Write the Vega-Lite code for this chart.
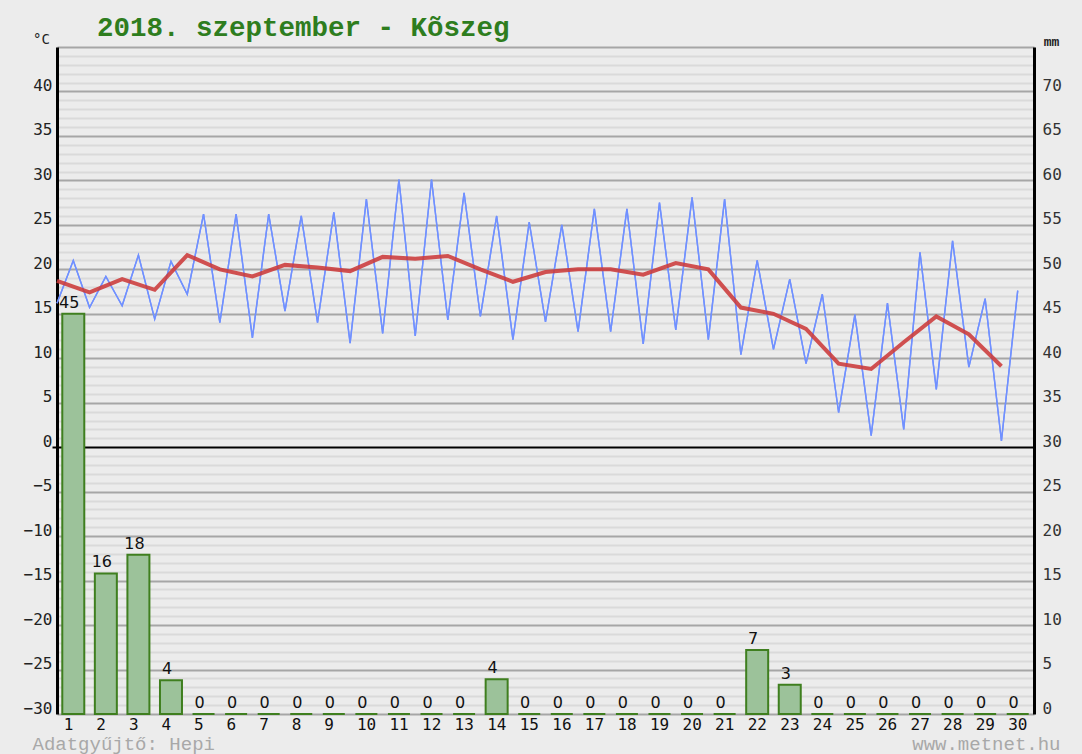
{
  "$schema": "https://vega.github.io/schema/vega-lite/v6.json",
  "width": 977,
  "height": 667,
  "autosize": "none",
  "padding": {"left": 57, "top": 47, "right": 48, "bottom": 40},
  "background": "#ececec",
  "config": {"view": {"stroke": null, "fill": "#ececec"}, "axis": {"grid": false}},
  "title": {"text": "2018. szeptember - Kõszeg", "anchor": "start", "frame": "group", "dx": 40, "dy": 41, "offset": 10, "font": "Liberation Mono", "fontSize": 27.5, "fontWeight": "bold", "color": "#2e7d1e", "baseline": "alphabetic"},
  "datasets": {
    "temps": [
      {"t": 0.5, "temp": 16.2}, {"t": 1, "temp": 21.0}, {"t": 1.5, "temp": 15.7}, {"t": 2, "temp": 19.2},
      {"t": 2.5, "temp": 15.9}, {"t": 3, "temp": 21.6}, {"t": 3.5, "temp": 14.4}, {"t": 4, "temp": 20.9},
      {"t": 4.5, "temp": 17.2}, {"t": 5, "temp": 26.2}, {"t": 5.5, "temp": 14.0}, {"t": 6, "temp": 26.2},
      {"t": 6.5, "temp": 12.3}, {"t": 7, "temp": 26.2}, {"t": 7.5, "temp": 15.3}, {"t": 8, "temp": 26.0},
      {"t": 8.5, "temp": 14.0}, {"t": 9, "temp": 26.4}, {"t": 9.5, "temp": 11.7}, {"t": 10, "temp": 27.9},
      {"t": 10.5, "temp": 12.8}, {"t": 11, "temp": 30.1}, {"t": 11.5, "temp": 12.5}, {"t": 12, "temp": 30.1},
      {"t": 12.5, "temp": 14.3}, {"t": 13, "temp": 28.6}, {"t": 13.5, "temp": 14.7}, {"t": 14, "temp": 26.0},
      {"t": 14.5, "temp": 12.1}, {"t": 15, "temp": 25.3}, {"t": 15.5, "temp": 14.1}, {"t": 16, "temp": 25.0},
      {"t": 16.5, "temp": 13.0}, {"t": 17, "temp": 26.8}, {"t": 17.5, "temp": 13.0}, {"t": 18, "temp": 26.8},
      {"t": 18.5, "temp": 11.6}, {"t": 19, "temp": 27.5}, {"t": 19.5, "temp": 13.2}, {"t": 20, "temp": 28.1},
      {"t": 20.5, "temp": 12.1}, {"t": 21, "temp": 27.9}, {"t": 21.5, "temp": 10.4}, {"t": 22, "temp": 21.0},
      {"t": 22.5, "temp": 11.0}, {"t": 23, "temp": 18.9}, {"t": 23.5, "temp": 9.4}, {"t": 24, "temp": 17.2},
      {"t": 24.5, "temp": 3.9}, {"t": 25, "temp": 14.9}, {"t": 25.5, "temp": 1.3}, {"t": 26, "temp": 16.2},
      {"t": 26.5, "temp": 2.0}, {"t": 27, "temp": 21.9}, {"t": 27.5, "temp": 6.5}, {"t": 28, "temp": 23.2},
      {"t": 28.5, "temp": 9.0}, {"t": 29, "temp": 16.7}, {"t": 29.5, "temp": 0.7}, {"t": 30, "temp": 17.6}
    ],
    "means": [
      {"t": 0.5, "temp": 18.7}, {"t": 1.5, "temp": 17.4}, {"t": 2.5, "temp": 18.9}, {"t": 3.5, "temp": 17.7},
      {"t": 4.5, "temp": 21.6}, {"t": 5.5, "temp": 20.0}, {"t": 6.5, "temp": 19.2}, {"t": 7.5, "temp": 20.5},
      {"t": 8.5, "temp": 20.2}, {"t": 9.5, "temp": 19.8}, {"t": 10.5, "temp": 21.4}, {"t": 11.5, "temp": 21.2},
      {"t": 12.5, "temp": 21.5}, {"t": 13.5, "temp": 20.0}, {"t": 14.5, "temp": 18.6}, {"t": 15.5, "temp": 19.7},
      {"t": 16.5, "temp": 20.0}, {"t": 17.5, "temp": 20.0}, {"t": 18.5, "temp": 19.4}, {"t": 19.5, "temp": 20.7},
      {"t": 20.5, "temp": 20.0}, {"t": 21.5, "temp": 15.7}, {"t": 22.5, "temp": 15.0}, {"t": 23.5, "temp": 13.3},
      {"t": 24.5, "temp": 9.4}, {"t": 25.5, "temp": 8.8}, {"t": 26.5, "temp": 11.8}, {"t": 27.5, "temp": 14.7},
      {"t": 28.5, "temp": 12.7}, {"t": 29.5, "temp": 9.1}
    ],
    "daily": [
      {"day": 1, "precip": 45}, {"day": 2, "precip": 15.8}, {"day": 3, "precip": 17.9}, {"day": 4, "precip": 3.8},
      {"day": 5, "precip": 0}, {"day": 6, "precip": 0}, {"day": 7, "precip": 0}, {"day": 8, "precip": 0},
      {"day": 9, "precip": 0}, {"day": 10, "precip": 0}, {"day": 11, "precip": 0}, {"day": 12, "precip": 0},
      {"day": 13, "precip": 0}, {"day": 14, "precip": 3.9}, {"day": 15, "precip": 0}, {"day": 16, "precip": 0},
      {"day": 17, "precip": 0}, {"day": 18, "precip": 0}, {"day": 19, "precip": 0}, {"day": 20, "precip": 0},
      {"day": 21, "precip": 0}, {"day": 22, "precip": 7.2}, {"day": 23, "precip": 3.3}, {"day": 24, "precip": 0},
      {"day": 25, "precip": 0}, {"day": 26, "precip": 0}, {"day": 27, "precip": 0}, {"day": 28, "precip": 0},
      {"day": 29, "precip": 0}, {"day": 30, "precip": 0}
    ]
  },
  "layer": [
    {
      "data": {"name": "temps"},
      "mark": {"type": "line", "color": "#7090ff", "strokeWidth": 1.4},
      "encoding": {
        "x": {"field": "t", "type": "quantitative", "scale": {"domain": [0.5, 30.5], "nice": false, "zero": false, "padding": 0},
          "axis": {"orient": "bottom", "labels": false, "ticks": false, "domain": false, "grid": false,
            "title": "www.metnet.hu", "titleFont": "Liberation Mono", "titleFontSize": 19, "titleFontWeight": "normal",
            "titleColor": "#a8a8a8", "titleAlign": "right", "titleAnchor": "end", "titleX": 1003, "titleY": 29, "titleBaseline": "middle"}},
        "y": {"field": "temp", "type": "quantitative", "scale": {"domain": [-30, 45], "nice": false, "zero": false},
          "axis": {"orient": "left",
            "values": [-30,-29,-28,-27,-26,-25,-24,-23,-22,-21,-20,-19,-18,-17,-16,-15,-14,-13,-12,-11,-10,-9,-8,-7,-6,-5,-4,-3,-2,-1,0,1,2,3,4,5,6,7,8,9,10,11,12,13,14,15,16,17,18,19,20,21,22,23,24,25,26,27,28,29,30,31,32,33,34,35,36,37,38,39,40,41,42,43,44,45],
            "labelExpr": "datum.value % 5 === 0 && datum.value < 45 ? datum.label : ''",
            "labelFont": "DejaVu Sans Mono", "labelFontSize": 16, "labelColor": "#222222",
            "labelOffset": -6, "labelPadding": 0, "labelBaseline": "middle", "labelOverlap": false, "labelFlush": false,
            "ticks": true, "tickSize": 5, "tickWidth": 2, "tickColor": "#000000",
            "tickOpacity": {"condition": {"test": "datum.value === 0", "value": 1}, "value": 0},
            "grid": true, "gridWidth": 2,
            "gridColor": {"condition": [{"test": "datum.value === 0", "value": "#000000"}, {"test": "datum.value % 5 === 0", "value": "#a6a6a6"}], "value": "#dadada"},
            "domain": true, "domainColor": "#000000", "domainWidth": 3,
            "title": "°C", "titleAngle": 0, "titleX": -16, "titleY": -8, "titleAlign": "center", "titleBaseline": "middle",
            "titleFont": "DejaVu Sans Mono", "titleFontSize": 14, "titleFontWeight": "normal", "titleColor": "#222222"}}
      }
    },
    {
      "data": {"name": "daily"},
      "mark": {"type": "bar", "width": 22, "fill": "#9cc29a", "stroke": "#3f7f1f", "strokeWidth": 2},
      "encoding": {
        "x": {"field": "day", "type": "quantitative", "scale": {"domain": [0.5, 30.5], "nice": false, "zero": false, "padding": 0},
          "axis": {"orient": "bottom", "values": [1,2,3,4,5,6,7,8,9,10,11,12,13,14,15,16,17,18,19,20,21,22,23,24,25,26,27,28,29,30],
            "labelFont": "DejaVu Sans Mono", "labelFontSize": 16, "labelColor": "#111111", "labelAlign": "left", "labelOffset": -10,
            "labelPadding": 2, "labelBaseline": "top", "labelOverlap": false, "labelFlush": false,
            "ticks": false, "domain": false, "grid": false,
            "title": "Adatgyűjtő: Hepi", "titleFont": "Liberation Mono", "titleFontSize": 19, "titleFontWeight": "normal",
            "titleColor": "#a8a8a8", "titleAlign": "left", "titleAnchor": "start", "titleX": -25, "titleY": 29, "titleBaseline": "middle"}},
        "y": {"field": "precip", "type": "quantitative", "scale": {"domain": [0, 75], "nice": false, "zero": true},
          "axis": {"orient": "right", "values": [0,5,10,15,20,25,30,35,40,45,50,55,60,65,70],
            "labelFont": "DejaVu Sans Mono", "labelFontSize": 16, "labelColor": "#333333", "labelOffset": -6, "labelPadding": 8,
            "labelBaseline": "middle", "labelOverlap": false, "labelFlush": false,
            "ticks": false, "grid": false, "domain": true, "domainColor": "#000000", "domainWidth": 3,
            "title": "mm", "titleAngle": 0, "titleX": 17, "titleY": -6, "titleAlign": "center", "titleBaseline": "middle",
            "titleFont": "Liberation Mono", "titleFontSize": 13, "titleFontWeight": "bold", "titleColor": "#222222"}}
      }
    },
    {
      "data": {"name": "daily"},
      "mark": {"type": "text", "baseline": "alphabetic", "dy": -6, "dx": -4, "font": "DejaVu Sans", "fontSize": 16, "color": "#111111"},
      "encoding": {
        "x": {"field": "day", "type": "quantitative", "scale": {"domain": [0.5, 30.5], "nice": false, "zero": false, "padding": 0}, "axis": null},
        "y": {"field": "precip", "type": "quantitative", "scale": {"domain": [0, 75], "nice": false, "zero": true}, "axis": null},
        "text": {"field": "precip", "type": "quantitative", "format": ".0f"}
      }
    },
    {
      "data": {"name": "temps"},
      "mark": {"type": "line", "color": "#7090ff", "strokeWidth": 1.4},
      "encoding": {
        "x": {"field": "t", "type": "quantitative", "scale": {"domain": [0.5, 30.5], "nice": false, "zero": false, "padding": 0}, "axis": null},
        "y": {"field": "temp", "type": "quantitative", "scale": {"domain": [-30, 45], "nice": false, "zero": false}, "axis": null}
      }
    },
    {
      "data": {"name": "means"},
      "mark": {"type": "line", "color": "#cc3a3a", "strokeWidth": 4, "opacity": 0.88},
      "encoding": {
        "x": {"field": "t", "type": "quantitative", "scale": {"domain": [0.5, 30.5], "nice": false, "zero": false, "padding": 0}, "axis": null},
        "y": {"field": "temp", "type": "quantitative", "scale": {"domain": [-30, 45], "nice": false, "zero": false}, "axis": null}
      }
    }
  ],
  "resolve": {"scale": {"y": "independent"}, "axis": {"x": "independent"}}
}
